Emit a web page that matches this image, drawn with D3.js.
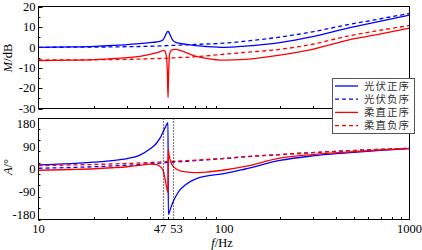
<!DOCTYPE html>
<html>
<head>
<meta charset="utf-8">
<script src="https://cdn.jsdelivr.net/npm/d3@7"></script>
<style>
body { margin: 0; background: #fff; }
svg text { font-family: "Liberation Serif", "Times New Roman", serif; font-size: 12.5px; fill: #000; }
</style>
</head>
<body>
<script>

// frequency points (Hz), dense around 50 Hz
var freq = [10, 15, 20, 25, 30, 35, 40, 43, 45, 46, 47, 48, 49, 49.5, 49.9, 50.1, 50.5, 51, 52, 53, 55, 58, 62, 70, 80, 100, 130, 200, 300, 460, 700, 1000];

// magnitude M (dB)
var pvPosM  = [0, 0.2, 0.5, 0.9, 1.3, 1.8, 2.3, 2.6, 2.9, 3.2, 3.8, 5.2, 7, 7.6, 7.8, 7.7, 7.3, 6.4, 4.8, 3.4, 2.4, 1.9, 1.5, 0.8, 0.4, 0, 0.6, 2.3, 5.2, 9.3, 12.8, 15.8];
var pvNegM  = [0, 0.05, 0.1, 0.2, 0.3, 0.4, 0.5, 0.6, 0.65, 0.7, 0.7, 0.75, 0.8, 0.8, 0.8, 0.8, 0.85, 0.85, 0.9, 0.9, 1, 1.1, 1.2, 1.4, 1.6, 2, 3, 5, 7.6, 11, 14, 16.6];
var hvPosM  = [-6.5, -6.3, -6, -5.6, -5.1, -4.5, -3.4, -2.7, -2.2, -1.9, -1.5, -1.8, -5, -12, -24.7, -19, -8, -3, -1.4, -1.1, -1, -1.5, -2.5, -4.3, -5.4, -6.3, -5.9, -3.8, -1, 3.4, 6.6, 9.4];
var hvNegM  = [-6.2, -6.2, -6.1, -6, -5.9, -5.8, -5.6, -5.5, -5.5, -5.4, -5.4, -5.4, -5.4, -5.4, -5.3, -5.3, -5.3, -5.3, -5.2, -5.2, -5.1, -5, -4.9, -4.6, -4.2, -3.4, -2.5, -1, 1.5, 5.4, 8.4, 10.7];

// phase A (deg)
var pvPosA  = [16, 21, 27, 33, 41, 54, 80, 100, 120, 133, 148, 162, 175, 181, 184, -180, -176, -166, -148, -132, -108, -82, -62, -40, -28, -18, 0, 34, 52, 64, 74, 81];
var pvNegA  = [3, 6, 9, 12, 15, 18, 21, 22, 23, 24, 24, 25, 25, 25, 25.5, 25.5, 26, 26, 26.5, 27, 28, 29, 30, 33, 36, 41, 48, 57, 65, 72, 78, 82];
var hvPosA  = [-5, -2, 1, 5, 9, 14, 19, 18, 11, 5, -6, -35, -70, -85, -93, 78, 58, 42, 22, 12, 1, -7, -11, -14, -12, -4, 10, 43, 57, 67, 76, 82];
var hvNegA  = [13, 16, 18, 20, 22, 24, 26, 27, 27.5, 28, 28, 28.5, 29, 29, 29, 29, 29.5, 29.5, 30, 30, 31, 32, 33, 35, 38, 42, 49, 57, 65, 72, 78, 82];

var seriesNames = ['光伏正序', '光伏负序', '柔直正序', '柔直负序'];
var seriesColors = ['#0000ff', '#0000ff', '#ff0000', '#ff0000'];
var seriesDash = [null, '4,3', null, '4,3'];

var mTicks = [20, 10, 0, -10, -20, -30];
var aTicks = [180, 90, 0, -90, -180];
var fTicks = [10, 100, 1000];
var markFreqs = [47, 53];

var width = 422,
	height = 250;

var svg = d3.select('body').append('svg')
	.attr('width', width)
	.attr('height', height);

var x = d3.scaleLog().domain([10, 1000]).range([38.5, 409.5]);
var yM = d3.scaleLinear().domain([-30, 20]).range([108.5, 6.5]);
var yA = d3.scaleLinear().domain([-200, 200]).range([219.5, 118.5]);

var minorF = [];
[10, 100].forEach(function(d){
	for (var i = 2; i < 10; i++) minorF.push(d * i);
});

function drawPanel(y, ticks, minorStep, mags, name){
	var g = svg.append('g');
	var y0 = y.range()[0], y1 = y.range()[1];

	g.append('clipPath').attr('id', 'clip' + name)
		.append('rect')
		.attr('x', x.range()[0]).attr('y', y1)
		.attr('width', x.range()[1] - x.range()[0]).attr('height', y0 - y1);

	// minor x ticks (inward)
	g.selectAll('.mx').data(minorF).enter().append('line')
		.attr('x1', function(d){ return Math.round(x(d)) + 0.5; })
		.attr('x2', function(d){ return Math.round(x(d)) + 0.5; })
		.attr('y1', y0).attr('y2', y0 - 2.5)
		.attr('stroke', '#000').attr('stroke-width', 1);

	// y ticks
	var dom = y.domain();
	for (var v = dom[0]; v <= dom[1]; v += minorStep) {
		var major = ticks.indexOf(v) >= 0;
		g.append('line')
			.attr('x1', x.range()[0]).attr('x2', x.range()[0] + (major ? 4 : 2))
			.attr('y1', Math.round(y(v)) + 0.5).attr('y2', Math.round(y(v)) + 0.5)
			.attr('stroke', '#000').attr('stroke-width', 1);
	}

	g.selectAll('.yl').data(ticks).enter().append('text')
		.attr('x', x.range()[0] - 3)
		.attr('y', function(d){ return y(d); })
		.attr('dy', '0.35em')
		.attr('text-anchor', 'end')
		.text(function(d){ return d; });

	var line = d3.line()
		.x(function(d, i){ return x(freq[i]); })
		.y(function(d){ return y(d); })
		.curve(d3.curveMonotoneX);

	g.selectAll('.series').data(mags).enter().append('path')
		.attr('clip-path', 'url(#clip' + name + ')')
		.attr('d', function(d){ return line(d); })
		.attr('fill', 'none')
		.attr('stroke', function(d, i){ return seriesColors[i]; })
		.attr('stroke-width', 1.3)
		.attr('stroke-dasharray', function(d, i){ return seriesDash[i]; });

	g.append('rect')
		.attr('x', x.range()[0]).attr('y', y1)
		.attr('width', x.range()[1] - x.range()[0]).attr('height', y0 - y1)
		.attr('fill', 'none').attr('stroke', '#000').attr('stroke-width', 1);

	return g;
}

drawPanel(yM, mTicks, 5, [pvPosM, pvNegM, hvPosM, hvNegM], 'M');
var gA = drawPanel(yA, aTicks, 45, [pvPosA, pvNegA, hvPosA, hvNegA], 'A');

// dotted markers at 47 / 53 Hz
gA.selectAll('.mark').data(markFreqs).enter().append('line')
	.attr('x1', function(d){ return Math.round(x(d)) + 0.5; })
	.attr('x2', function(d){ return Math.round(x(d)) + 0.5; })
	.attr('y1', yA.range()[1]).attr('y2', yA.range()[0])
	.attr('stroke', '#000').attr('stroke-width', 1.2)
	.attr('stroke-dasharray', '1,2');

// x labels
svg.selectAll('.xl').data(fTicks).enter().append('text')
	.attr('x', function(d){ return x(d); })
	.attr('y', 233)
	.attr('text-anchor', 'middle')
	.text(function(d){ return d; });

// 47 / 53 labels pushed apart so they do not collide
svg.selectAll('.ml').data(markFreqs).enter().append('text')
	.attr('x', function(d, i){ return x(d) + (i == 0 ? 3 : -2.5); })
	.attr('y', 233)
	.attr('text-anchor', function(d, i){ return i == 0 ? 'end' : 'start'; })
	.text(function(d){ return d; });

var xt = svg.append('text').attr('x', 222).attr('y', 247).attr('text-anchor', 'middle');
xt.append('tspan').style('font-style', 'italic').text('f');
xt.append('tspan').text('/Hz');

var mt = svg.append('text').attr('transform', 'translate(12,58) rotate(-90)').attr('text-anchor', 'middle');
mt.append('tspan').style('font-style', 'italic').text('M');
mt.append('tspan').text('/dB');

var at = svg.append('text').attr('transform', 'translate(12,167) rotate(-90)').attr('text-anchor', 'middle');
at.append('tspan').style('font-style', 'italic').text('A');
at.append('tspan').text('/°');

// legend
var leg = svg.append('g');
leg.append('rect')
	.attr('x', 332.5).attr('y', 78.5)
	.attr('width', 82).attr('height', 55)
	.attr('fill', '#fff').attr('stroke', '#555').attr('stroke-width', 1);

var rows = leg.selectAll('.row').data(seriesNames).enter().append('g')
	.attr('transform', function(d, i){ return 'translate(0,' + (86 + i * 13.2) + ')'; });

rows.append('line')
	.attr('x1', 335).attr('x2', 358)
	.attr('stroke', function(d, i){ return seriesColors[i]; })
	.attr('stroke-width', 1.3)
	.attr('stroke-dasharray', function(d, i){ return seriesDash[i]; });

rows.append('text')
	.attr('x', 364).attr('dy', '0.35em')
	.style('font-family', '"Noto Sans CJK SC", sans-serif')
	.style('font-size', '10.5px')
	.style('letter-spacing', '1px')
	.style('fill', '#333')
	.text(function(d){ return d; });

</script>
</body>
</html>
